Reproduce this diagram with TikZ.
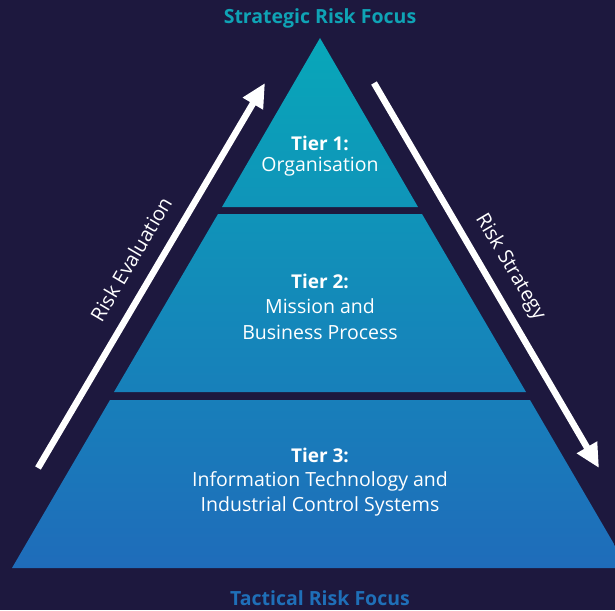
\documentclass[tikz,border=0pt]{standalone}
\usepackage{fontspec}
\setmainfont{Open Sans}
\usetikzlibrary{arrows.meta}

\begin{document}
\begin{tikzpicture}[x=1pt, y=-1pt]
  \definecolor{navy}{HTML}{1D183E}
  \definecolor{tealtop}{HTML}{08A7B9}
  \definecolor{bluebot}{HTML}{1F6CBA}
  \definecolor{titleteal}{HTML}{0FA3B5}
  \definecolor{titleblue}{HTML}{1F6FB8}
  \tikzset{
    flow/.style={white, line width=6.5pt, -{Triangle[length=24pt,width=22pt]}},
    tierhead/.style={font=\fontsize{19}{22}\selectfont\bfseries, text=white},
    tiertext/.style={font=\fontsize{19.5}{25.5}\selectfont, text=white, align=center},
    focus/.style={font=\fontsize{19.5}{22}\selectfont\bfseries},
    flowlabel/.style={font=\fontsize{20}{22}\selectfont, text=white}
  }

  % background
  \fill[navy] (0,0) rectangle (615,610);
  \useasboundingbox (0,0) rectangle (615,610);

  % pyramid tiers, one shading for all three
  \begin{scope}
    \clip (320,38) -- (418,207) -- (222,207) -- cycle
          (218,214) -- (422,214) -- (526,392) -- (114,392) -- cycle
          (110,400) -- (530,400) -- (628,568) -- (12,568) -- cycle;
    \shade[top color=tealtop, bottom color=bluebot] (0,38) rectangle (615,568);
  \end{scope}

  % tier texts
  \node[tierhead] (t1head) at (320,143) {Tier 1:};
  \node[tiertext] (t1) at (320,167) {Organisation};
  \node[tierhead] (t2head) at (320,281) {Tier 2:};
  \node[tiertext] (t2) at (320,319) {Mission and\\Business Process};
  \node[tierhead] (t3head) at (320,455) {Tier 3:};
  \node[tiertext] (t3) at (320,494) {Information Technology and\\Industrial Control Systems};

  % focus titles
  \node[focus, text=titleteal] (strategic) at (320,18) {Strategic Risk Focus};
  \node[focus, text=titleblue] (tactical) at (320,598) {Tactical Risk Focus};

  % arrows
  \coordinate (evalstart) at (38,468);
  \coordinate (evalend) at (265,83);
  \coordinate (stratstart) at (374,83);
  \coordinate (stratend) at (599,468);
  \draw[flow] (evalstart) -- (evalend);
  \draw[flow] (stratstart) -- (stratend);

  \node[flowlabel, rotate=59.5] (evallabel) at (131,259) {Risk Evaluation};
  \node[flowlabel, rotate=-59.5] (stratlabel) at (510,267) {Risk Strategy};
\end{tikzpicture}
\end{document}
